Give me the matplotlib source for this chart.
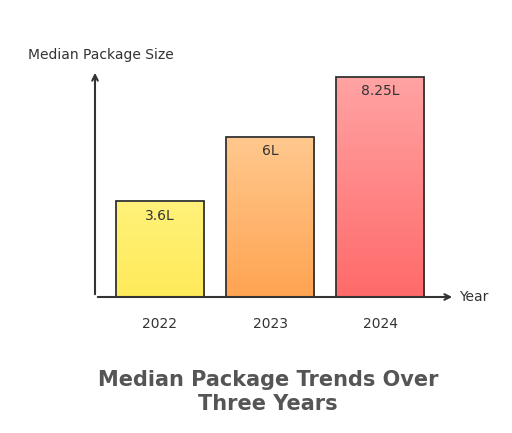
import matplotlib.pyplot as plt
import numpy as np
from matplotlib.colors import LinearSegmentedColormap

years = ["2022", "2023", "2024"]
values = [3.6, 6.0, 8.25]
labels = ["3.6L", "6L", "8.25L"]
top_colors = ["#FFF27A", "#FFC88E", "#FFA3A3"]
bot_colors = ["#FFEA5A", "#FFA452", "#FF6A6A"]

W, H = 512, 433
fig = plt.figure(figsize=(W/100, H/100), dpi=100)
x0, x1, y0, y1 = 95, 455, 297, 70
ax = fig.add_axes([x0/W, 1-y0/H, (x1-x0)/W, (y0-y1)/H])
ax.set_xlim(-0.59, 2.68)
ax.set_ylim(0, 8.5)
ax.axis('off')

for i, (v, lab) in enumerate(zip(values, labels)):
    cmap = LinearSegmentedColormap.from_list("g", [bot_colors[i], top_colors[i]])
    grad = np.linspace(0, 1, 100).reshape(-1, 1)
    im = ax.imshow(grad, extent=[i-0.4, i+0.4, 0, v], origin='lower', cmap=cmap, aspect='auto', zorder=1)
    r = plt.Rectangle((i-0.4, 0), 0.8, v, fill=False, ec="#333333", lw=1.3, zorder=2)
    ax.add_patch(r)
    im.set_clip_path(r)
    ax.text(i, v-0.55, lab, ha='center', va='center', fontsize=10, color="#333333", zorder=3)
    ax.text(i, -1.0, years[i], ha='center', va='center', fontsize=10, color="#333333", clip_on=False)

ax.set_xlim(-0.59, 2.68); ax.set_ylim(0, 8.5)
ax.annotate("", xy=(0, 1), xytext=(0, 0), xycoords='axes fraction',
            arrowprops=dict(arrowstyle='->', color="#333333", lw=1.5))
ax.annotate("", xy=(1, 0), xytext=(0, 0), xycoords='axes fraction',
            arrowprops=dict(arrowstyle='->', color="#333333", lw=1.5))
fig.text(28/W, 1-55/H, "Median Package Size", fontsize=10, color="#333333", va='center')
fig.text(459/W, 1-297/H, "Year", fontsize=10, color="#333333", va='center')
fig.text(268/W, 1-392/H, "Median Package Trends Over\nThree Years", fontsize=15, fontweight='bold',
         color="#555555", ha='center', va='center', linespacing=1.3)
fig.savefig("out.png", dpi=100, facecolor='white')
